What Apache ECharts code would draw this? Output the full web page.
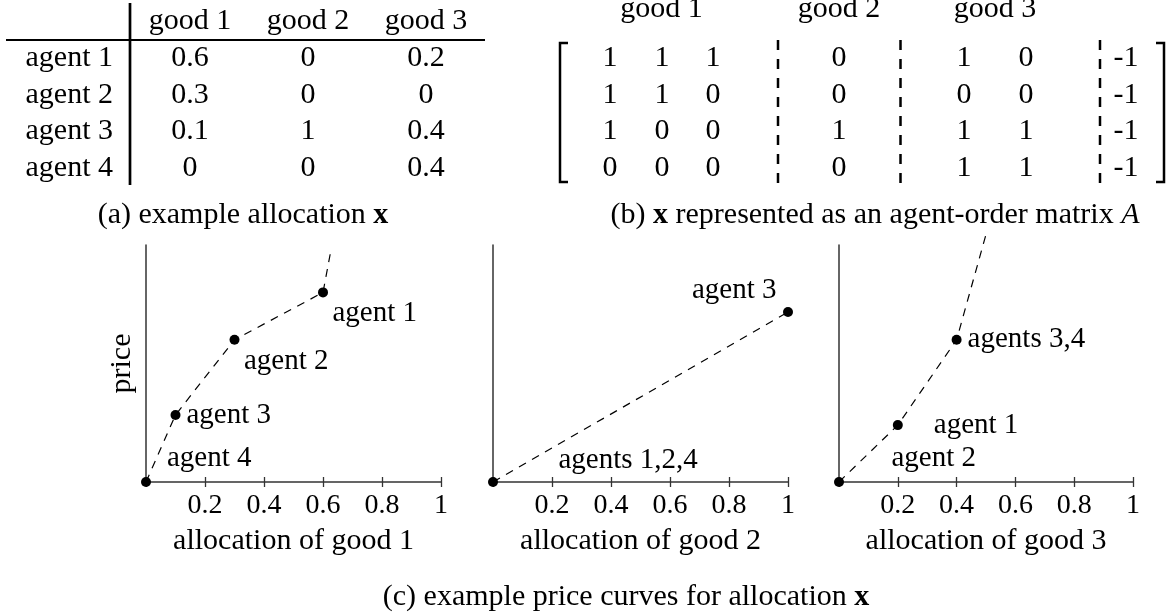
<!DOCTYPE html>
<html>
<head>
    <meta charset="UTF-8">
    <title>allocation, agent-order matrix and price curves</title>
    <script type="text/javascript" src="https://cdn.jsdelivr.net/npm/echarts@6/dist/echarts.min.js"></script>
</head>
<body style="margin: 0;background: #fff;">
<div id="chart" style="width: 1168px;height: 615px"></div>
<script type="text/javascript">
    var goods = ['good 1', 'good 2', 'good 3'];
    var agents = ['agent 1', 'agent 2', 'agent 3', 'agent 4'];
    // (a) allocation x, one row per agent
    var allocation = [
        [0.6, 0, 0.2],
        [0.3, 0, 0],
        [0.1, 1, 0.4],
        [0, 0, 0.4]
    ];
    // (b) agent-order matrix A (3 cols good 1, 1 col good 2, 2 cols good 3, last col)
    var matrixA = [
        [1, 1, 1, 0, 1, 0, -1],
        [1, 1, 0, 0, 0, 0, -1],
        [1, 0, 0, 1, 1, 1, -1],
        [0, 0, 0, 0, 1, 1, -1]
    ];
    var matGroups = [[0, 1, 2], [3], [4, 5]];
    var xTicks = [0, 0.2, 0.4, 0.6, 0.8, 1];
    // (c) price curves; the last point of curves 1 and 3 is where the dashed line runs out
    var curve1X = [0, 0.1, 0.3, 0.6, 0.627];
    var curve1Y = [0, 0.283, 0.60, 0.80, 0.979];
    var curve1Labels = ['agent 4', 'agent 3', 'agent 2', 'agent 1'];
    var curve2X = [0, 1];
    var curve2Y = [0, 0.717];
    var curve2Labels = ['agents 1,2,4', 'agent 3'];
    var curve3X = [0, 0.2, 0.4, 0.499];
    var curve3Y = [0, 0.24, 0.60, 1.04];
    var curve3Labels = ['agent 2', 'agent 1', 'agents 3,4'];

    var FONT = "'Liberation Serif', 'DejaVu Serif', serif";
    var AXIS = '#333';

    // layout only
    var matColX = [610, 662, 713, 839, 964, 1026, 1126];
    var matDividers = [778, 900.5, 1100];
    var plots = [
        {left: 146, width: 295, xs: curve1X, ys: curve1Y, labels: curve1Labels, name: 'allocation of good 1', yName: 'price',
            place: [['right', 11, -24], ['right', 1, 0], ['right', -0.5, 22], ['right', -0.5, 21]]},
        {left: 493, width: 295, xs: curve2X, ys: curve2Y, labels: curve2Labels, name: 'allocation of good 2', yName: '',
            place: [['right', 55.5, -22], ['left', -1.5, -22]]},
        {left: 839, width: 294, xs: curve3X, ys: curve3Y, labels: curve3Labels, name: 'allocation of good 3', yName: '',
            place: [['right', 42.5, -24], ['right', 26, 0], ['right', 1, 0]]}
    ];

    var grid = [], xAxis = [], yAxis = [], series = [];
    plots.forEach(function (p, k) {
        grid.push({left: p.left, width: p.width, top: 245, height: 237, outerBoundsMode: 'none'});
        xAxis.push({
            type: 'value', gridIndex: k, min: 0, max: 1, interval: 0.2, position: 'bottom',
            name: p.name, nameLocation: 'middle', nameGap: 44,
            nameTextStyle: {fontSize: 30, fontFamily: FONT, color: '#000'},
            axisLine: {show: true, lineStyle: {color: AXIS, width: 1.5}},
            axisTick: {show: true, inside: false, length: 5, lineStyle: {color: AXIS, width: 1.3}},
            axisLabel: {
                margin: 10, fontSize: 28, fontFamily: FONT, color: '#000',
                formatter: function (v) { return v === 0 ? '' : String(v); }
            },
            splitLine: {show: false}
        });
        xAxis.push({
            type: 'value', gridIndex: k, min: 0, max: 1, interval: 0.2, position: 'bottom',
            axisLine: {show: false},
            axisTick: {show: true, inside: true, length: 5, lineStyle: {color: AXIS, width: 1.3}},
            axisLabel: {show: false},
            splitLine: {show: false}
        });
        yAxis.push({
            type: 'value', gridIndex: k, min: 0, max: 1,
            name: p.yName, nameLocation: 'middle', nameGap: 9, nameRotate: 90,
            nameTextStyle: {fontSize: 30, fontFamily: FONT, color: '#000'},
            axisLine: {show: true, lineStyle: {color: AXIS, width: 1.5}},
            axisTick: {show: false},
            axisLabel: {show: false},
            splitLine: {show: false}
        });
        var lineData = p.xs.map(function (x, i) { return [x, p.ys[i]]; });
        series.push({
            type: 'line', xAxisIndex: k * 2, yAxisIndex: k, data: lineData,
            symbol: 'none', clip: false, silent: true, z: 2,
            lineStyle: {color: '#000', width: 1.2, type: [8, 7]}
        });
        var dots = p.labels.map(function (txt, i) {
            return {
                value: [p.xs[i], p.ys[i]],
                label: {
                    show: true, formatter: txt, position: p.place[i][0],
                    offset: [p.place[i][1], p.place[i][2]], distance: 5
                }
            };
        });
        series.push({
            type: 'scatter', xAxisIndex: k * 2, yAxisIndex: k, data: dots,
            symbolSize: 10, clip: false, silent: true, z: 3,
            itemStyle: {color: '#000', opacity: 1},
            label: {fontSize: 29, fontFamily: FONT, color: '#000', opacity: 1}
        });
    });

    // (a) table
    grid.push({left: 131, top: 40, width: 354, height: 146, outerBoundsMode: 'none'});
    xAxis.push({
        type: 'category', gridIndex: 3, data: goods, position: 'top',
        axisLine: {show: false}, axisTick: {show: false},
        axisLabel: {interval: 0, margin: 4, fontSize: 30, fontFamily: FONT, color: '#000'}
    });
    yAxis.push({
        type: 'category', gridIndex: 3, data: agents, inverse: true,
        axisLine: {show: false}, axisTick: {show: false},
        axisLabel: {interval: 0, margin: 18, fontSize: 30, fontFamily: FONT, color: '#000'}
    });
    var cellData = [];
    allocation.forEach(function (row, i) {
        row.forEach(function (v, j) { cellData.push([j, i, v]); });
    });
    series.push({
        type: 'scatter', xAxisIndex: 6, yAxisIndex: 3, data: cellData, silent: true,
        symbolSize: 1, itemStyle: {color: 'rgba(0,0,0,0)', opacity: 1},
        label: {
            show: true, position: 'inside', fontSize: 30, fontFamily: FONT, color: '#000', opacity: 1,
            formatter: function (p) { return String(p.value[2]); }
        }
    });

    // (b) matrix
    grid.push({left: 0, top: 40, width: 1168, height: 146, outerBoundsMode: 'none'});
    xAxis.push({type: 'value', gridIndex: 4, min: 0, max: 1168, show: false});
    yAxis.push({type: 'value', gridIndex: 4, min: 0, max: 4, inverse: true, show: false});
    var matData = [];
    matrixA.forEach(function (row, i) {
        row.forEach(function (v, j) { matData.push([matColX[j], i + 0.5, v]); });
    });
    var headData = matGroups.map(function (g, k) {
        return [(matColX[g[0]] + matColX[g[g.length - 1]]) / 2, -0.85, goods[k]];
    });
    series.push({
        type: 'scatter', xAxisIndex: 7, yAxisIndex: 4, data: matData.concat(headData), silent: true,
        symbolSize: 1, clip: false, itemStyle: {color: 'rgba(0,0,0,0)', opacity: 1},
        label: {
            show: true, position: 'inside', fontSize: 30, fontFamily: FONT, color: '#000', opacity: 1,
            formatter: function (p) { return String(p.value[2]); }
        }
    });

    var graphic = [
        {type: 'line', shape: {x1: 130, y1: 3, x2: 130, y2: 185}, style: {stroke: '#000', lineWidth: 2.7}},
        {type: 'line', shape: {x1: 6, y1: 40, x2: 485, y2: 40}, style: {stroke: '#000', lineWidth: 2}},
        {type: 'polyline', shape: {points: [[568, 43], [560, 43], [560, 182], [568, 182]]},
            style: {stroke: '#000', lineWidth: 2.5, fill: null}},
        {type: 'polyline', shape: {points: [[1156, 43], [1164, 43], [1164, 182], [1156, 182]]},
            style: {stroke: '#000', lineWidth: 2.5, fill: null}}
    ];
    matDividers.forEach(function (x) {
        graphic.push({type: 'line', shape: {x1: x, y1: 40, x2: x, y2: 185},
            style: {stroke: '#000', lineWidth: 2.5, lineDash: [10, 9]}});
    });
    var rich = {
        b: {fontWeight: 'bold', fontSize: 30, fontFamily: FONT, fill: '#000'},
        i: {fontStyle: 'italic', fontSize: 30, fontFamily: FONT, fill: '#000'}
    };
    [
        {x: 243, y: 215, text: '(a) example allocation {b|x}'},
        {x: 875, y: 215, text: '(b) {b|x} represented as an agent-order matrix {i|A}'},
        {x: 626, y: 597, text: '(c) example price curves for allocation {b|x}'}
    ].forEach(function (c) {
        graphic.push({
            type: 'text', x: c.x, y: c.y, silent: true,
            style: {
                text: c.text, fontSize: 30, fontFamily: FONT, fill: '#000',
                textAlign: 'center', textVerticalAlign: 'middle', rich: rich
            }
        });
    });

    var chart = echarts.init(document.getElementById('chart'));
    chart.setOption({
        backgroundColor: '#fff',
        animation: false,
        grid: grid,
        xAxis: xAxis,
        yAxis: yAxis,
        series: series,
        graphic: graphic
    });
</script>
</body>
</html>
